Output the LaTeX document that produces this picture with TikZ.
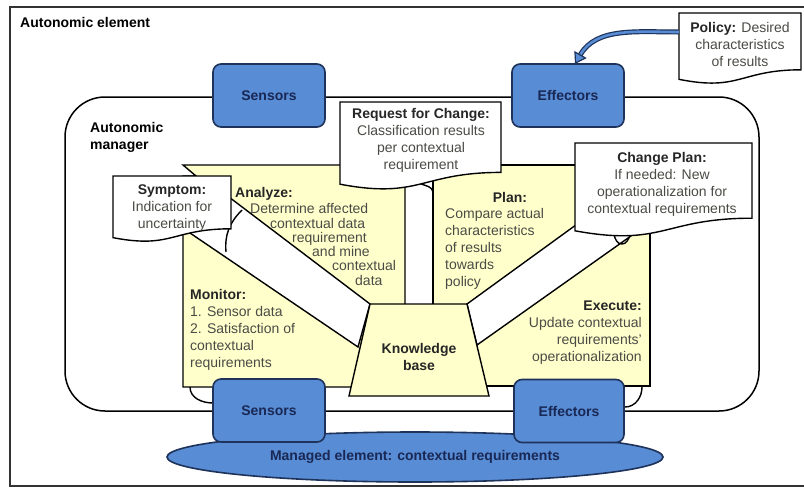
\documentclass[tikz,border=0pt]{standalone}
\usepackage{fontspec}
\setmainfont{Liberation Sans}
\usetikzlibrary{shapes.geometric,arrows.meta}
\definecolor{boxblue}{RGB}{88,140,212}
\definecolor{boxline}{RGB}{30,50,90}
\definecolor{navy}{RGB}{25,40,85}
\definecolor{paleyellow}{RGB}{255,255,204}
\definecolor{txtgray}{RGB}{75,75,70}
\newcommand{\hd}[1]{\textbf{\color{black!85}#1}}
% document shape: left, top, right, height
\newcommand{\docpath}[4]{%
  \filldraw[note] (#1,#2) -- (#3,#2) -- (#3,{#2+0.80*#4})
    .. controls ({(#1+#3)/2},{#2+0.80*#4}) and ({(#1+#3)/2},{#2+1.107*#4}) .. (#1,{#2+0.934*#4}) -- cycle;}
\begin{document}
\begin{tikzpicture}[x=1pt,y=-1pt,font=\fontsize{14}{17}\selectfont,
    bluebox/.style={draw=boxline,fill=boxblue,line width=1.6pt,rounded corners=8pt,
      minimum width=112pt,minimum height=63pt,font=\fontsize{14}{17}\selectfont\bfseries,text=navy},
    note/.style={draw=black,fill=white,line width=1.4pt},
    panel/.style={draw=black,fill=paleyellow,line width=1.4pt},
    strip/.style={draw=black,fill=white,line width=1.4pt},
    lbl/.style={inner sep=0pt,text=txtgray},
    polarrow/.style={draw=boxline,line width=1.2pt,double=boxblue,double distance=2.6pt,
      -{Triangle[length=11pt,width=14pt,fill=boxblue]}}]
\useasboundingbox (0,0) rectangle (804,488);
\fill[white] (0,0) rectangle (804,488);

% autonomic element and manager
\draw[line width=1.5pt,black!80] (10,7) rectangle (812,486);
\node[anchor=north west,inner sep=0pt,font=\fontsize{14}{17}\selectfont\bfseries] (ae) at (20,17) {Autonomic element};
\draw[line width=1.5pt,rounded corners=40pt] (65,97) rectangle (759,411);
\node[anchor=north west,inner sep=0pt,align=left,font=\fontsize{14}{17}\selectfont\bfseries] (am) at (90,122) {Autonomic\\manager};

\node[bluebox] (senstop) at (269,95.5) {Sensors};
\node[bluebox] (efftop) at (568,95.5) {Effectors};

% MAPE panels
\filldraw[panel] (183,165) -- (405,165) -- (405,387) -- (183,387) -- (183,176) -- (196,176) -- cycle;
\filldraw[panel] (433,165) rectangle (650,386);
\filldraw[strip] (225,194) -- (370,304) -- (358,347) -- (190,233) -- cycle;
\filldraw[strip] (467,304) -- (580,222) -- (645,226) -- (477,345) -- cycle;
\filldraw[panel] (370,304) -- (467,304) -- (489,396) -- (349,396) -- cycle;
\node[lbl,align=center,font=\fontsize{14}{17}\selectfont\bfseries,text=black!85] (kb) at (419,357) {Knowledge\\base};

% small joints
\draw[line width=1.4pt] (242,210) to[out=225,in=95] (226,252);
\draw[line width=1.4pt] (190,387) to[out=-90,in=180] (213,403);
\draw[line width=1.4pt] (625,407) to[out=0,in=-90] (642,387);
\draw[line width=1.4pt] (421,184) to[out=-20,in=100] (433,192);
\draw[line width=1.4pt] (614,234) to[out=-80,in=180] (622,244) to[out=0,in=-120] (630,236);

\node[lbl,anchor=north west] (anah) at (235,187) {\hd{Analyze:}};
\foreach \txt/\xx/\yy [count=\i] in {Determine affected/250/203,contextual data/270/218,
    requirement/292/232,and mine/312/246,contextual/332/260,data/355/275}
  \node[lbl,anchor=north west] (ana\i) at (\xx,\yy) {\txt};
\node[lbl,anchor=north west,align=left] (mon) at (190,289)
  {\hd{Monitor:}\\1. Sensor data\\2. Satisfaction of\\contextual\\requirements};
\node[lbl,anchor=north] (planh) at (510,192) {\hd{Plan:}};
\node[lbl,anchor=north west,align=left] (plan) at (445,208)
  {Compare actual\\characteristics\\of results\\towards\\policy};
\node[lbl,anchor=north east,align=right] (exe) at (642,301)
  {\hd{Execute:}\\Update contextual\\requirements'\\operationalization};

% callouts
\docpath{113}{176}{231}{66}
\node[lbl,anchor=north,align=center] (sym) at (172,185) {\hd{Symptom:}\\Indication for\\uncertainty};
\docpath{340}{102}{501}{88}
\node[lbl,anchor=north,align=center] (req) at (421,108)
  {\hd{Request for Change:}\\Classification results\\per contextual\\requirement};
\docpath{575}{143}{752}{94}
\node[lbl,anchor=north,align=center] (chg) at (662,152)
  {\hd{Change Plan:}\\If needed: New\\operationalization for\\contextual requirements};
\docpath{679}{13}{801}{71}
\node[lbl,anchor=north,align=center] (pol) at (740,22) {\hd{Policy:} Desired\\characteristics\\of results};

% managed element
\node[ellipse,draw=boxline,fill=boxblue,line width=1.6pt,minimum width=496pt,minimum height=50pt,
  font=\fontsize{14}{17}\selectfont\bfseries,text=navy] (me) at (415,457) {Managed element: contextual requirements};
\node[bluebox] (sensbot) at (269,410.5) {Sensors};
\node[bluebox,minimum width=110pt] (effbot) at (569,411) {Effectors};

\coordinate (polL) at (679,32);
\coordinate (efftip) at (575,64);
\draw[polarrow] (polL) to[out=180,in=60] (efftip);
\end{tikzpicture}
\end{document}
